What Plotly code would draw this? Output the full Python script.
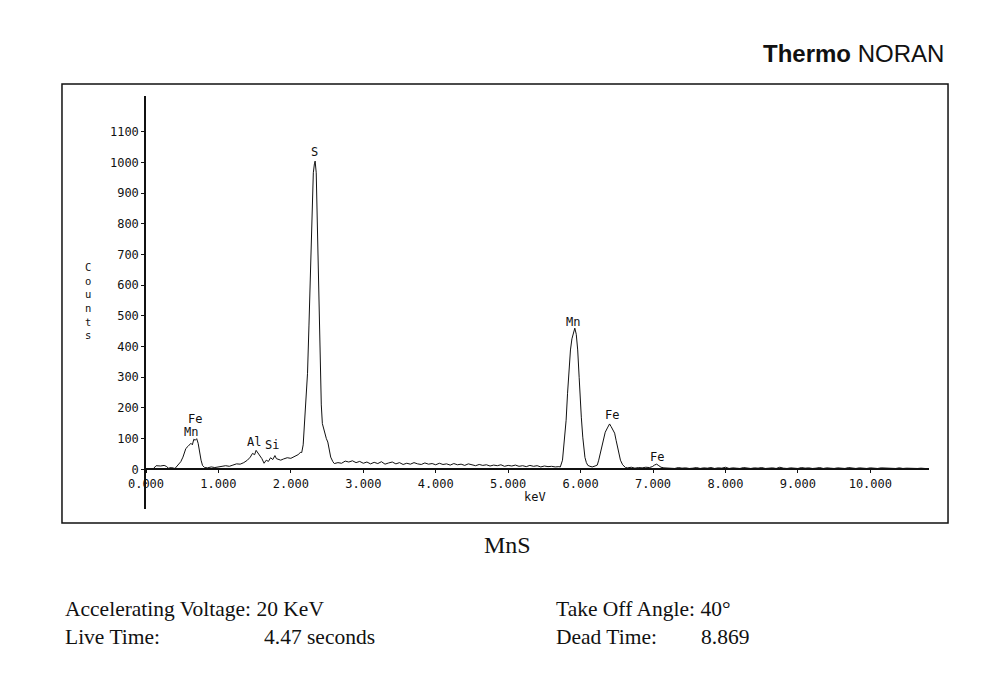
import plotly.graph_objects as go

# ---------------- data ----------------
energy_kev = [
    0.00, 0.05, 0.10, 0.14, 0.20, 0.25, 0.28, 0.31, 0.35, 0.40, 0.44, 0.48, 0.51, 0.55, 0.58,
    0.62, 0.64, 0.66, 0.68, 0.70, 0.72, 0.74, 0.76, 0.78, 0.81, 0.85, 0.90, 0.95, 1.00, 1.05,
    1.10, 1.15, 1.20, 1.25, 1.30, 1.35, 1.40, 1.44, 1.47, 1.50, 1.52, 1.54, 1.57, 1.60, 1.63,
    1.66, 1.69, 1.72, 1.75, 1.78, 1.80, 1.83, 1.86, 1.90, 1.95, 2.00, 2.05, 2.10, 2.13,
    2.15, 2.17, 2.18, 2.20, 2.23, 2.25, 2.27, 2.29, 2.31, 2.325, 2.335, 2.35, 2.365, 2.38,
    2.395, 2.405, 2.42, 2.435, 2.46, 2.49, 2.51, 2.53, 2.55, 2.58, 2.60,
    2.65, 2.70, 2.75, 2.80, 2.85, 2.90, 2.95, 3.00, 3.05, 3.10, 3.15, 3.20, 3.25, 3.30, 3.35,
    3.40, 3.45, 3.50, 3.55, 3.60, 3.65, 3.70, 3.75, 3.80, 3.85, 3.90, 3.95, 4.00, 4.05, 4.10,
    4.15, 4.20, 4.25, 4.30, 4.35, 4.40, 4.45, 4.50, 4.55, 4.60, 4.65, 4.70, 4.75, 4.80, 4.85,
    4.90, 4.95, 5.00, 5.05, 5.10, 5.15, 5.20, 5.25, 5.30, 5.35, 5.40, 5.45, 5.50, 5.55, 5.60,
    5.65, 5.70,
    5.72, 5.75, 5.77, 5.80, 5.82, 5.84, 5.86, 5.88, 5.90, 5.92, 5.94, 5.96, 5.98, 5.99, 6.01,
    6.03, 6.05, 6.06, 6.08, 6.10, 6.13, 6.16, 6.20, 6.23, 6.25, 6.28, 6.30, 6.32, 6.34, 6.37,
    6.40, 6.42, 6.44, 6.47, 6.49, 6.51, 6.53, 6.55, 6.58, 6.62, 6.65, 6.70, 6.75, 6.80, 6.85,
    6.90, 6.95, 6.99, 7.02, 7.05, 7.08, 7.11, 7.15, 7.20,
    7.25, 7.30, 7.35, 7.40, 7.45, 7.50, 7.55, 7.60, 7.65, 7.70, 7.75, 7.80, 7.85, 7.90, 7.95,
    8.00, 8.05, 8.10, 8.15, 8.20, 8.25, 8.30, 8.35, 8.40, 8.45, 8.50, 8.55, 8.60, 8.65, 8.70,
    8.75, 8.80, 8.85, 8.90, 8.95, 9.00, 9.05, 9.10, 9.15, 9.20, 9.25, 9.30, 9.35, 9.40, 9.45,
    9.50, 9.55, 9.60, 9.65, 9.70, 9.75, 9.80, 9.85, 9.90, 9.95, 10.00, 10.05, 10.10, 10.15,
    10.20, 10.25, 10.30, 10.35, 10.40, 10.45, 10.50, 10.55, 10.60, 10.65, 10.70, 10.75, 10.80,
]
counts = [
    0, 0, 2, 12, 11, 13, 10, 4, 6, 3, 15, 25, 40, 68, 75,
    85, 80, 98, 95, 100, 85, 55, 30, 13, 6, 5, 8, 6, 9, 10,
    12, 10, 14, 18, 17, 22, 30, 40, 52, 48, 62, 55, 45, 35, 20,
    30, 26, 38, 32, 45, 35, 32, 30, 34, 38, 36, 42, 48, 55,
    55, 80, 117, 180, 313, 470, 640, 800, 966, 995, 1004, 966, 800, 640,
    450, 313, 210, 149, 122, 100, 89, 65, 40, 25, 19,
    22, 20, 27, 24, 28, 22, 26, 20, 24, 18, 23, 19, 25, 17, 21,
    24, 18, 22, 16, 20, 17, 22, 18, 16, 21, 17, 19, 15, 20, 16,
    18, 14, 19, 15, 17, 13, 18, 14, 12, 16, 13, 15, 11, 14, 12,
    15, 10, 13, 11, 14, 10, 12, 9, 13, 10, 12, 8, 11, 9, 10,
    8, 9,
    8, 30, 85, 160, 248, 320, 389, 425, 444, 460, 440, 389, 300, 248, 170,
    105, 60, 39, 22, 13, 10, 8, 11, 14, 30, 60, 85, 105, 121, 135,
    148, 140, 132, 118, 95, 72, 50, 30, 15, 6, 5, 7, 4, 6, 5,
    7, 6, 9, 14, 17, 12, 7, 5, 4,
    5, 3, 6, 4, 5, 3, 4, 6, 3, 5, 4, 6, 3, 5, 4,
    7, 3, 5, 4, 3, 6, 4, 3, 5, 4, 6, 3, 4, 5, 3,
    7, 4, 3, 5, 4, 3, 6, 4, 5, 3, 4, 6, 3, 5, 4,
    3, 5, 4, 3, 6, 4, 3, 5, 4, 3, 5, 4, 3, 5,
    4, 3, 4, 3, 5, 3, 4, 3, 4, 3, 4, 3, 2,
]

y_ticks = [0, 100, 200, 300, 400, 500, 600, 700, 800, 900, 1000, 1100]
x_ticks = [0, 1, 2, 3, 4, 5, 6, 7, 8, 9, 10]

peak_labels = ["S", "Mn", "Fe", "Fe", "Fe", "Mn", "Al", "Si"]
peak_label_kev = [2.33, 5.90, 6.43, 7.06, 0.68, 0.62, 1.49, 1.74]
peak_label_counts = [1033, 480, 176, 39, 163, 121, 88, 78]

# ---------------- figure ----------------
MONO = "DejaVu Sans Mono"
SERIF = "Liberation Serif, Times New Roman, serif"
SANS = "Liberation Sans, Arial, sans-serif"

y_range = [-129, 1216]
x_range = [0, 10.81]
x_axis_pos = (0 - y_range[0]) / (y_range[1] - y_range[0])

fig = go.Figure()
fig.add_trace(go.Scatter(
    x=energy_kev, y=counts, mode="lines",
    line=dict(color="#111111", width=1), hoverinfo="skip", showlegend=False,
))

for lab, xe, yc in zip(peak_labels, peak_label_kev, peak_label_counts):
    fig.add_annotation(x=xe, y=yc, xref="x", yref="y", text=lab, showarrow=False,
                       yanchor="middle",
                       font=dict(family=MONO, size=12, color="#111111"))

fig.update_layout(
    width=994, height=677,
    margin=dict(l=146, r=65, t=96, b=168),
    paper_bgcolor="white", plot_bgcolor="white",
    showlegend=False,
    xaxis=dict(
        range=x_range, tickvals=x_ticks, tickformat=".3f",
        showgrid=False, zeroline=False,
        showline=True, linecolor="#111111", linewidth=1.5,
        ticks="outside", ticklen=3, tickcolor="#111111",
        tickfont=dict(family=MONO, size=12, color="#111111"),
        anchor="free", position=x_axis_pos,
    ),
    yaxis=dict(
        range=y_range, tickvals=y_ticks,
        showgrid=False, zeroline=False,
        showline=True, linecolor="#111111", linewidth=1.5,
        ticks="outside", ticklen=3, tickcolor="#111111",
        tickfont=dict(family=MONO, size=12, color="#111111"),
    ),
)

# outer frame
fig.add_shape(type="rect", xref="paper", yref="paper",
              x0=-0.1073, x1=1.0243, y0=-0.0339, y1=1.029,
              line=dict(color="#111111", width=1.5), fillcolor="rgba(0,0,0,0)")

# axis title texts
fig.add_annotation(xref="paper", yref="paper", x=0.4968, y=0.029, text="keV",
                   xanchor="center", yanchor="middle", showarrow=False,
                   font=dict(family=MONO, size=12, color="#111111"))
fig.add_annotation(xref="paper", yref="paper", x=-0.0741, y=0.5036,
                   xanchor="center", yanchor="middle",
                   text="C<br>o<br>u<br>n<br>t<br>s", showarrow=False,
                   font=dict(family=MONO, size=10.5, color="#111111"))

# logo
fig.add_annotation(xref="paper", yref="paper", x=1.0217, y=1.1017, xanchor="right",
                   yanchor="middle", text="<b>Thermo</b> NORAN", showarrow=False,
                   font=dict(family=SANS, size=24, color="#111111"))

# caption and footer
fig.add_annotation(xref="paper", yref="paper", x=0.4623, y=-0.0872, text="MnS",
                   xanchor="center", yanchor="middle",
                   showarrow=False, font=dict(family=SERIF, size=24, color="#111111"))
footer = [
    ("Accelerating Voltage: 20 KeV", -0.106, -0.2421),
    ("Live Time:", -0.106, -0.3099),
    ("4.47 seconds", 0.1481, -0.3099),
    ("Take Off Angle: 40°", 0.5211, -0.2421),
    ("Dead Time:", 0.5211, -0.3099),
    ("8.869", 0.7063, -0.3099),
]
for txt, xp, yp in footer:
    fig.add_annotation(xref="paper", yref="paper", x=xp, y=yp, xanchor="left",
                       yanchor="middle", text=txt, showarrow=False,
                       font=dict(family=SERIF, size=21.5, color="#111111"))

fig.write_html("out.html")
